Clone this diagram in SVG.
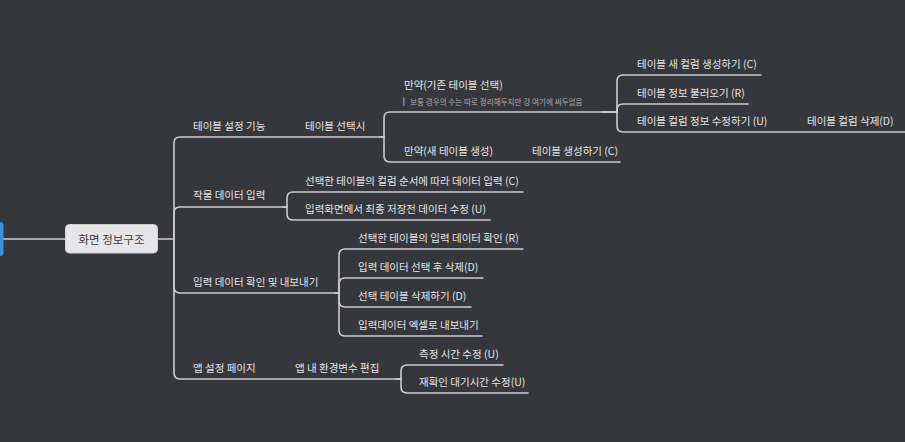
<svg xmlns="http://www.w3.org/2000/svg" width="905" height="442" viewBox="0 0 905 442">
<style>
.t{font-family:"Noto Sans CJK KR","Noto Sans",sans-serif;font-size:10.5px;fill:#e4e4e6}
.n{font-family:"Noto Sans CJK KR","Noto Sans",sans-serif;font-size:7.6px;fill:#a9a9ad}
.r{font-family:"Noto Sans CJK KR","Noto Sans",sans-serif;font-size:11.5px;fill:#3c3c40}
.c{fill:none;stroke:#cdcdcf;stroke-width:1.6;stroke-linecap:round;stroke-linejoin:round}
</style>
<rect width="905" height="442" fill="#36373c"/>
<g id="connectors">
<path class="c" d="M3.5 239 H66"/>
<path class="c" d="M157 239 H174 V143 Q174 137 180 137 H384"/>
<path class="c" d="M380 137 H384 V118 Q384 112 390 112 H617"/>
<path class="c" d="M384 137 V156 Q384 162 390 162 H620"/>
<path class="c" d="M602 112 H617 V81 Q617 75 623 75 H761"/>
<path class="c" d="M617 112 V110 Q617 104 623 104 H748"/>
<path class="c" d="M617 112 V126 Q617 132 623 132 H905"/>
<path class="c" d="M174 239 V213 Q174 207 180 207 H287"/>
<path class="c" d="M283 207 H287 V198 Q287 192 293 192 H523"/>
<path class="c" d="M287 207 V214 Q287 220 293 220 H490"/>
<path class="c" d="M174 239 V287 Q174 293 180 293 H339"/>
<path class="c" d="M335 293 H339 V255 Q339 249 345 249 H523"/>
<path class="c" d="M339 293 V284 Q339 278 345 278 H483"/>
<path class="c" d="M339 293 V301 Q339 307 345 307 H471"/>
<path class="c" d="M339 293 V330 Q339 336 345 336 H482"/>
<path class="c" d="M174 239 V373 Q174 379 180 379 H401"/>
<path class="c" d="M396 379 H401 V371 Q401 365 407 365 H503"/>
<path class="c" d="M401 379 V387 Q401 393 407 393 H528"/>
</g>
<g id="left-node"><rect x="-10" y="222" width="13.5" height="34" rx="3" fill="#3f92d8"/></g>
<g id="root"><rect x="65.5" y="224.5" width="92" height="28.5" rx="4" fill="#e6e6e8" stroke="#d0d0d3"/><text class="r" x="111.5" y="243.5" text-anchor="middle">화면 정보구조</text></g>
<g id="n-table-setting"><text class="t" x="193" y="129.5">테이블 설정 기능</text></g>
<g id="n-table-select"><text class="t" x="305" y="129.5">테이블 선택시</text></g>
<g id="n-if-existing"><text class="t" x="404" y="89">만약(기존 테이블 선택)</text><rect x="403" y="97.5" width="1.6" height="8.5" fill="#7d7ad6"/><text class="n" x="410" y="105">보통 경우의 수는 따로 정리해두지만 걍 여기에 써두었음</text></g>
<g id="n-if-new"><text class="t" x="404" y="154.5">만약(새 테이블 생성)</text></g>
<g id="n-create-table"><text class="t" x="532" y="154.5">테이블 생성하기 (C)</text></g>
<g id="n-new-column"><text class="t" x="637" y="67.5">테이블 새 컬럼 생성하기 (C)</text></g>
<g id="n-load-info"><text class="t" x="637" y="96.5">테이블 정보 불러오기 (R)</text></g>
<g id="n-edit-column"><text class="t" x="637" y="124.5">테이블 컬럼 정보 수정하기 (U)</text></g>
<g id="n-delete-column"><text class="t" x="807" y="124.5">테이블 컬럼 삭제(D)</text></g>
<g id="n-crop-input"><text class="t" x="193" y="199">작물 데이터 입력</text></g>
<g id="n-input-order"><text class="t" x="305" y="184.5">선택한 테이블의 컬럼 순서에 따라 데이터 입력 (C)</text></g>
<g id="n-input-edit"><text class="t" x="305" y="212.5">입력화면에서 최종 저장전 데이터 수정 (U)</text></g>
<g id="n-check-export"><text class="t" x="193" y="285.5">입력 데이터 확인 및 내보내기</text></g>
<g id="n-check"><text class="t" x="358" y="241.5">선택한 테이블의 입력 데이터 확인 (R)</text></g>
<g id="n-select-delete"><text class="t" x="358" y="270.5">입력 데이터 선택 후 삭제(D)</text></g>
<g id="n-table-delete"><text class="t" x="358" y="299.5">선택 테이블 삭제하기 (D)</text></g>
<g id="n-export"><text class="t" x="358" y="328.5">입력데이터 엑셀로 내보내기</text></g>
<g id="n-app-settings"><text class="t" x="193" y="371.5">앱 설정 페이지</text></g>
<g id="n-env-edit"><text class="t" x="295" y="371.5">앱 내 환경변수 편집</text></g>
<g id="n-measure-time"><text class="t" x="419" y="357.5">측정 시간 수정 (U)</text></g>
<g id="n-wait-time"><text class="t" x="419" y="385.5">재확인 대기시간 수정(U)</text></g>
</svg>
